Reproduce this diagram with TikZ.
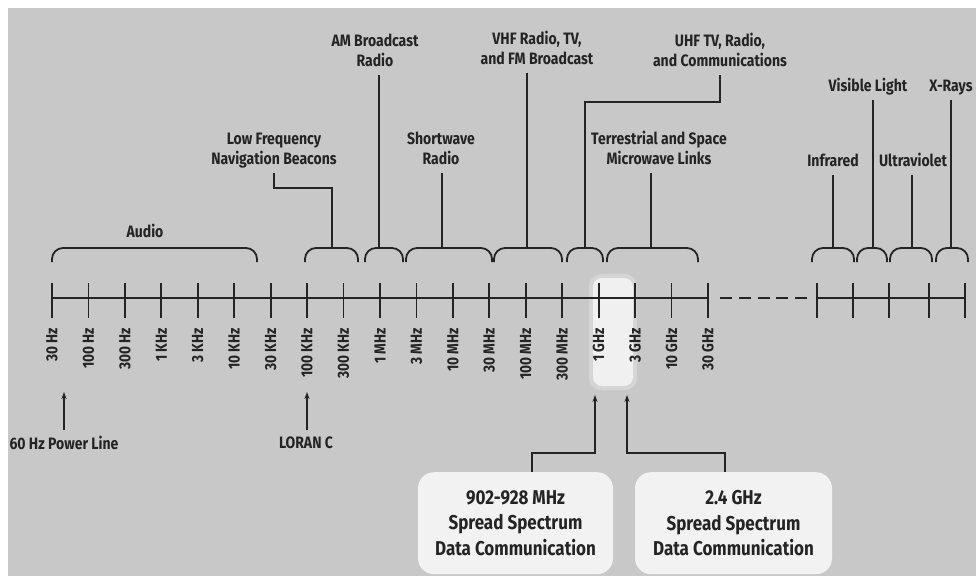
\documentclass[tikz,border=0pt]{standalone}
\usepackage{fontspec}
\setmainfont{Fira Sans}[FakeStretch=0.85]
\usetikzlibrary{arrows.meta,calc}
\definecolor{bg}{HTML}{C8C8C8}
\definecolor{ink}{HTML}{242424}
\definecolor{boxfill}{HTML}{F2F2F2}
\tikzset{
  line/.style={draw=ink, line width=1.8pt},
  brak/.style={line, rounded corners=11pt},
  arr/.style={draw=ink, line width=1.5pt, -{Stealth[length=7pt,width=5pt]}},
  lab/.style={text=ink, font=\bfseries\fontsize{16.5}{20}\selectfont, align=center, inner xsep=0pt, inner ysep=8pt, text depth=0pt},
  ticklab/.style={text=ink, font=\bfseries\fontsize{16}{17}\selectfont, inner sep=0pt, rotate=90, anchor=east},
  infobox/.style={fill=boxfill, rounded corners=16pt, text=ink, font=\bfseries\fontsize{20}{25.5}\selectfont, align=center, minimum height=102pt},
}
\begin{document}
\begin{tikzpicture}[x=1pt,y=-1pt]
\useasboundingbox (0,0) rectangle (976,576);
\fill[white] (0,0) rectangle (976,576);
\fill[bg] (8,8) rectangle (976,576);
% highlight
\fill[white, opacity=0.25, rounded corners=12pt] (589,274) rectangle (637,390);
\fill[white, opacity=0.65, rounded corners=9pt] (593,278) rectangle (633,386);
% axis
\coordinate (ax0) at (52,298);
\coordinate (ax1) at (708,298);
\draw[line] (ax0) -- (ax1);
\foreach \i/\lab in {0/30 Hz,1/100 Hz,2/300 Hz,3/1 KHz,4/3 KHz,5/10 KHz,6/30 KHz,7/100 KHz,8/300 KHz,9/1 MHz,10/3 MHz,11/10 MHz,12/30 MHz,13/100 MHz,14/300 MHz,15/1 GHz,16/3 GHz,17/10 GHz,18/30 GHz}{
  \pgfmathsetmacro{\xx}{52+\i*36.44}
  \coordinate (tk\i) at (\xx,298);
  \draw[line] (\xx,283) -- (\xx,318);
  \node[ticklab] (tl\i) at (\xx,328) {\lab};
}
% dashed
\coordinate (d0) at (720,298);
\coordinate (d1) at (807,298);
\draw[line, dash pattern=on 12pt off 6.75pt] (d0) -- (d1);
\coordinate (r0) at (817,298);
\coordinate (r1) at (965,298);
\draw[line] (r0) -- (r1);
\foreach \xx in {817,853,889,929,965}{\draw[line] (\xx,283) -- (\xx,318);}
% brackets
\draw[brak] (52,262) -- (52,248) -- (257,248) -- (257,262);
\draw[brak] (305,262) -- (305,248) -- (358,248) -- (358,262);
\draw[brak] (365,262) -- (365,248) -- (403,248) -- (403,262);
\draw[brak] (406,262) -- (406,248) -- (492,248) -- (492,262);
\draw[brak] (494,262) -- (494,248) -- (562,248) -- (562,262);
\draw[brak] (567,262) -- (567,248) -- (603,248) -- (603,262);
\draw[brak] (607,262) -- (607,248) -- (698,248) -- (698,262);
\draw[brak] (812,262) -- (812,248) -- (854,248) -- (854,262);
\draw[brak] (857,262) -- (857,248) -- (887,248) -- (887,262);
\draw[brak] (890,262) -- (890,248) -- (932,248) -- (932,262);
\draw[brak] (936,262) -- (936,248) -- (968,248) -- (968,262);
\coordinate (blf) at (332,248);
\coordinate (bam) at (379,248);
\coordinate (bsw) at (442,248);
\coordinate (bvhf) at (527,248);
\coordinate (buhf) at (585,248);
\coordinate (bmw) at (651,248);
\coordinate (bir) at (833,248);
\coordinate (bvis) at (873,248);
\coordinate (buv) at (912,248);
\coordinate (bx) at (951,248);
% labels
\node[lab] (audio) at (145,231) {Audio};
\node[lab, anchor=south] (lf) at (274,173) {Low Frequency\\Navigation Beacons};
\node[lab, anchor=south] (am) at (375,75) {AM Broadcast\\Radio};
\node[lab, anchor=south] (sw) at (441,173) {Shortwave\\Radio};
\node[lab, anchor=south] (vhf) at (537,73) {VHF Radio, TV,\\and FM Broadcast};
\node[lab, anchor=south] (uhf) at (720,75) {UHF TV, Radio,\\and Communications};
\node[lab, anchor=south] (mw) at (659,173) {Terrestrial and Space\\Microwave Links};
\node[lab, anchor=south] (ir) at (833,175) {Infrared};
\node[lab, anchor=south] (vis) at (868,100) {Visible Light};
\node[lab, anchor=south] (uv) at (913,175) {Ultraviolet};
\node[lab, anchor=south] (xr) at (951,100) {X-Rays};
% stalks
\coordinate (lfe) at (332,188);
\draw[line] (blf) -- (lfe) -| (lf.south);
\draw[line] (bam) -- (bam |- am.south);
\draw[line] (bsw) -- (bsw |- sw.south);
\draw[line] (bvhf) -- (bvhf |- vhf.south);
\coordinate (uhfe) at (585,102);
\draw[line] (buhf) -- (uhfe) -| (uhf.south);
\draw[line] (bmw) -- (bmw |- mw.south);
\draw[line] (bir) -- (bir |- ir.south);
\draw[line] (bvis) -- (bvis |- vis.south);
\draw[line] (buv) -- (buv |- uv.south);
\draw[line] (bx) -- (bx |- xr.south);
% bottom left arrows
\node[lab, inner ysep=0pt] (pl) at (64,443) {60 Hz Power Line};
\node[lab, inner ysep=0pt] (lor) at (306,443) {LORAN C};
\coordinate (pla) at (64,392);
\coordinate (lora) at (307,392);
\draw[arr] (pla |- 0,430) -- (pla);
\draw[arr] (lora |- 0,430) -- (lora);
% info boxes
\node[infobox, minimum width=195pt, anchor=north] (b1) at (515.5,472) {902-928 MHz\\Spread Spectrum\\Data Communication};
\node[infobox, minimum width=197pt, anchor=north] (b2) at (733.5,472) {2.4 GHz\\Spread Spectrum\\Data Communication};
\coordinate (e1) at (595,453);
\coordinate (a1) at (595,395);
\coordinate (e2) at (627,453);
\coordinate (a2) at (627,395);
\draw[arr] ([xshift=16.5pt]b1.north) |- (e1) -- (a1);
\draw[arr] ([xshift=-8.5pt]b2.north) |- (e2) -- (a2);
\end{tikzpicture}
\end{document}
